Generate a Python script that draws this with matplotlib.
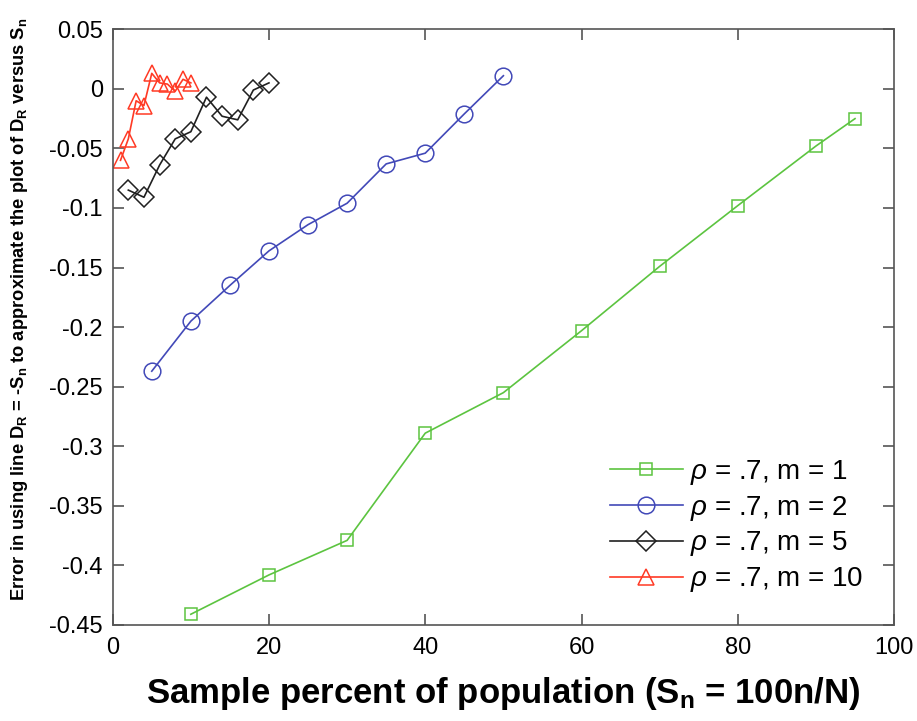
import matplotlib
matplotlib.use("Agg")
import matplotlib.pyplot as plt

plt.rcParams['font.family'] = ['Liberation Sans', 'DejaVu Sans']
plt.rcParams['mathtext.fontset'] = 'custom'
plt.rcParams['mathtext.rm'] = 'Liberation Sans'
plt.rcParams['mathtext.it'] = 'Liberation Sans:italic'
plt.rcParams['mathtext.bf'] = 'Liberation Sans:bold'

# sample percent vs. error for rho = .7 and several m
x_m1 = [10, 20, 30, 40, 50, 60, 70, 80, 90, 95]
y_m1 = [-0.441, -0.408, -0.379, -0.289, -0.255, -0.203, -0.149, -0.098, -0.048, -0.025]

x_m2 = [5, 10, 15, 20, 25, 30, 35, 40, 45, 50]
y_m2 = [-0.237, -0.195, -0.165, -0.136, -0.114, -0.096, -0.063, -0.054, -0.021, 0.011]

x_m5 = [2, 4, 6, 8, 10, 12, 14, 16, 18, 20]
y_m5 = [-0.085, -0.091, -0.064, -0.042, -0.036, -0.007, -0.023, -0.026, -0.001, 0.005]

x_m10 = [1, 2, 3, 4, 5, 6, 7, 8, 9, 10]
y_m10 = [-0.060, -0.042, -0.010, -0.014, 0.013, 0.005, 0.004, -0.002, 0.008, 0.005]

labels = [r'$\rho$ = .7, m = 1', r'$\rho$ = .7, m = 2',
          r'$\rho$ = .7, m = 5', r'$\rho$ = .7, m = 10']

xticks = [0, 20, 40, 60, 80, 100]
yticks = [0.05, 0, -0.05, -0.1, -0.15, -0.2, -0.25, -0.3, -0.35, -0.4, -0.45]
ytick_labels = ['0.05', '0', '-0.05', '-0.1', '-0.15', '-0.2', '-0.25',
                '-0.3', '-0.35', '-0.4', '-0.45']

fig = plt.figure(figsize=(9.17, 7.21), dpi=100)
ax = fig.add_axes([0.1229, 0.1332, 0.8521, 0.8262])

ax.plot(x_m1, y_m1, '-s', color='#5cc440', mfc='none', ms=9, lw=1.2, mew=1.1, label=labels[0])
ax.plot(x_m2, y_m2, '-o', color='#4249b8', mfc='none', ms=12, lw=1.2, mew=1.1, label=labels[1])
ax.plot(x_m5, y_m5, '-D', color='#202020', mfc='none', ms=10, lw=1.2, mew=1.1, label=labels[2])
ax.plot(x_m10, y_m10, '-^', color='#ff3a25', mfc='none', ms=12, lw=1.2, mew=1.1, label=labels[3])

ax.set_xlim(0, 100)
ax.set_ylim(-0.45, 0.05)
ax.set_xticks(xticks)
ax.set_yticks(yticks)
ax.set_yticklabels(ytick_labels)

for s in ax.spines.values():
    s.set_color('#555555')
    s.set_linewidth(1.2)
ax.tick_params(direction='in', length=8, width=1.2, color='#555555',
               top=True, right=True, labelsize=17)
ax.tick_params(axis='x', pad=9)
ax.tick_params(axis='y', pad=7)

ax.set_xlabel(r'Sample percent of population (S$_\mathbf{n}$ = 100n/N)',
              fontsize=25, fontweight='bold', labelpad=11)
ax.set_ylabel(r'Error in using line D$_\mathbf{R}$ = -S$_\mathbf{n}$ to approximate the plot of D$_\mathbf{R}$ versus S$_\mathbf{n}$',
              fontsize=13.2, fontweight='bold')
ax.yaxis.set_label_coords(-0.106, 0.53)

ax.legend(loc='lower right', frameon=False, fontsize=20, handlelength=2.65,
          labelspacing=0.25, handletextpad=0.25, borderaxespad=0.7)

fig.savefig('out.png', dpi=100)
